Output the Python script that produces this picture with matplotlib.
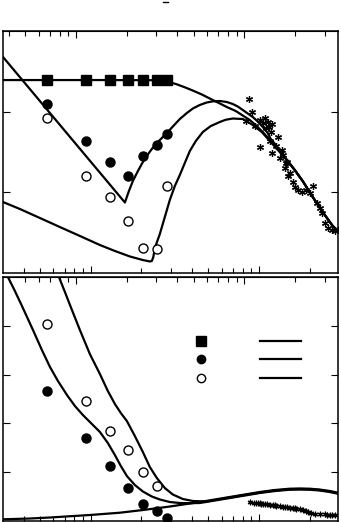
import matplotlib
matplotlib.use("Agg")
import matplotlib.pyplot as plt
from matplotlib.lines import Line2D
from matplotlib.legend_handler import HandlerTuple

# measured points (same x for all three sample types)
x_pts = [0.553, 0.938, 1.302, 1.671, 2.034, 2.464, 2.824]
sq_top = [2.388] * 7
fc_top = [2.091, 1.636, 1.380, 1.206, 1.454, 1.587, 1.723]
oc_top = [1.918, 1.206, 0.946, 0.648, 0.306, 0.301, 1.082]

# reference data (asterisks), upper panel
ast_x = [8.688, 9.050, 8.339, 9.430, 10.10, 10.52, 10.81, 11.26, 11.89, 11.42,
         10.96, 11.73, 12.91, 10.10, 11.89, 11.57, 13.64, 13.82, 14.60, 14.40,
         15.21, 15.84, 16.28, 16.96, 17.92, 18.92, 20.83, 19.98, 21.99, 23.54,
         24.53, 25.56, 26.99, 28.12, 29.30, 12.57, 13.27, 14.21, 14.80, 22.91]
ast_y = [2.157, 1.996, 1.884, 1.822, 1.897, 1.859, 1.921, 1.872, 1.847, 1.810,
         1.797, 1.748, 1.686, 1.562, 1.488, 1.636, 1.525, 1.463, 1.376, 1.364,
         1.240, 1.128, 1.066, 1.029, 1.004, 1.029, 1.078, 0.992, 0.868, 0.744,
         0.620, 0.558, 0.533, 0.521, 0.533, 1.574, 1.426, 1.302, 1.202, 0.806]

# model curves, upper panel
tail_x = [14.80, 16.28, 18.16, 20.83, 23.87, 27.36, 29.42]
tail_y = [1.388, 1.277, 1.140, 0.942, 0.756, 0.583, 0.521]

sq_cx = [0.302, 1.136, 2.407, 2.685, 2.953, 3.251, 3.625, 4.044, 4.574, 5.100,
         5.689, 6.434, 7.275, 8.006, 8.807, 9.691, 10.52, 11.57, 12.57, 13.64] + tail_x
sq_cy = [2.392, 2.392, 2.390, 2.380, 2.364, 2.339, 2.302, 2.262, 2.213, 2.163,
         2.114, 2.058, 2.008, 1.952, 1.897, 1.822, 1.748, 1.649, 1.562, 1.475] + tail_y

fc_cx = [0.302, 1.598, 1.688, 1.782, 1.909, 2.043, 2.218, 2.407, 2.612, 2.835,
         3.077, 3.386, 3.726, 4.044, 4.450, 4.896, 5.313, 5.848, 6.434, 6.982,
         7.476, 8.006, 8.570, 9.176, 9.824, 10.52, 11.26, 11.73, 12.57, 13.27] + tail_x
fc_cy = [2.678, 0.874, 1.016, 1.140, 1.264, 1.376, 1.488, 1.587, 1.661, 1.735,
         1.816, 1.909, 1.983, 2.039, 2.083, 2.114, 2.128, 2.132, 2.120, 2.095,
         2.064, 2.021, 1.977, 1.934, 1.878, 1.810, 1.735, 1.661, 1.587, 1.512] + tail_y

oc_cx = [0.302, 0.381, 0.500, 0.657, 0.864, 1.136, 1.394, 1.711, 2.043, 2.247,
         2.310, 2.357, 2.407, 2.576, 2.758, 2.953, 3.162, 3.386, 3.625, 3.881,
         4.213, 4.637, 5.170, 5.848, 6.347, 6.982, 8.006, 9.176, 10.38, 11.73,
         13.27] + tail_x
oc_cy = [0.880, 0.793, 0.682, 0.570, 0.459, 0.347, 0.273, 0.205, 0.161, 0.143,
         0.149, 0.198, 0.310, 0.483, 0.694, 0.905, 1.078, 1.215, 1.364, 1.512,
         1.636, 1.748, 1.822, 1.872, 1.900, 1.915, 1.909, 1.835, 1.748, 1.624,
         1.500] + tail_y

# lower panel
fc_bot = [2.664, 1.695, 1.133, 0.676, 0.342, 0.205, 0.055]
oc_bot = [4.037, 2.469, 1.844, 1.455, 1.010, 0.723]

ast2_x = [8.892, 9.302, 9.559, 9.83, 10.10, 10.33, 10.56, 10.83, 11.11, 11.57,
          12.06, 12.37, 12.69, 13.27, 13.88, 14.24, 14.60, 15.21, 15.84, 16.25,
          16.67, 17.43, 18.24, 18.92, 19.53, 20.46, 21.40, 22.91, 24.53, 25.4,
          26.27, 27.2, 28.12]
ast2_y = [0.383, 0.369, 0.363, 0.363, 0.363, 0.355, 0.348, 0.345, 0.342, 0.328,
          0.322, 0.318, 0.314, 0.303, 0.293, 0.288, 0.283, 0.273, 0.262, 0.257,
          0.252, 0.240, 0.225, 0.209, 0.191, 0.164, 0.137, 0.137, 0.143, 0.133,
          0.123, 0.125, 0.123]

band_x = [5.461, 6.703, 8.227, 10.10, 12.40, 15.21, 17.43, 19.98, 22.91, 26.27, 29.42]

fcb_cx = [0.323, 0.353, 0.389, 0.455, 0.514, 0.574, 0.640, 0.724, 0.807, 0.900,
          1.018, 1.136, 1.266, 1.394, 1.512, 1.642, 1.831, 2.043, 2.310, 2.576,
          2.953, 3.386, 3.881, 4.450] + band_x
fcb_cy = [5.0, 4.734, 4.426, 3.914, 3.504, 3.156, 2.869, 2.582, 2.357, 2.172,
          1.988, 1.824, 1.598, 1.352, 1.127, 0.922, 0.738, 0.605, 0.502, 0.441,
          0.389, 0.369, 0.365, 0.369,
          0.420, 0.471, 0.522, 0.574, 0.614, 0.641, 0.645, 0.641, 0.625, 0.594, 0.559]

ocb_cx = [0.649, 0.704, 0.775, 0.864, 0.990, 1.136, 1.266, 1.394, 1.512, 1.642,
          1.831, 2.043, 2.247, 2.473, 2.758, 3.077, 3.527, 4.044, 4.896] + band_x[1:]
ocb_cy = [5.0, 4.693, 4.324, 3.914, 3.422, 3.012, 2.664, 2.398, 2.213, 2.049,
          1.742, 1.414, 1.107, 0.881, 0.676, 0.543, 0.451, 0.410, 0.400,
          0.482, 0.533, 0.584, 0.625, 0.652, 0.656, 0.652, 0.635, 0.605, 0.570]

sqb_cx = [0.302, 0.436, 0.574, 0.990, 1.492, 2.043, 2.953, 4.450] + band_x
sqb_cy = [0.035, 0.051, 0.072, 0.123, 0.170, 0.225, 0.297, 0.389,
          0.441, 0.492, 0.543, 0.594, 0.635, 0.662, 0.666, 0.662, 0.645, 0.615, 0.580]

x_lim = (0.302, 29.42)
top_scale = 1.222

fig = plt.figure(figsize=(3.41, 5.22), dpi=100)
ax1 = fig.add_axes([0.0088, 0.477, 0.9824, 0.4636])
ax2 = fig.add_axes([0.0088, 0.0019, 0.9824, 0.4674])

lw = 1.6
ast_marker = (6, 2, 0)


def style(ax, ylim, yticks):
    ax.set_xscale('log')
    ax.set_xlim(*x_lim)
    ax.set_ylim(*ylim)
    ax.set_yticks(yticks)
    ax.tick_params(which='both', direction='in', top=False, bottom=True,
                   left=True, right=True, labelbottom=False, labelleft=False,
                   width=0.8)
    ax.tick_params(which='major', length=5)
    ax.tick_params(which='minor', length=3.5)
    for s in ax.spines.values():
        s.set_linewidth(1.1)
    sec = ax.secondary_xaxis('top', functions=(lambda v: v * top_scale,
                                               lambda v: v / top_scale))
    sec.tick_params(which='both', direction='in', labeltop=False, width=0.8)
    sec.tick_params(which='major', length=5)
    sec.tick_params(which='minor', length=3.5)


# upper panel
ax1.plot(sq_cx, sq_cy, color='black', lw=lw)
ax1.plot(fc_cx, fc_cy, color='black', lw=lw)
ax1.plot(oc_cx, oc_cy, color='black', lw=lw)
ax1.plot(x_pts, sq_top, 's', color='black', ms=7.5, ls='none')
ax1.plot(x_pts, fc_top, 'o', color='black', ms=6.5, ls='none')
ax1.plot(x_pts, oc_top, 'o', mfc='white', mec='black', mew=1, ms=6.5, ls='none')
ax1.plot(ast_x, ast_y, ls='none', marker=ast_marker, color='black', ms=5, mew=0.9)
style(ax1, (0, 3), [1, 2])

# lower panel
ax2.plot(sqb_cx, sqb_cy, color='black', lw=lw)
ax2.plot(fcb_cx, fcb_cy, color='black', lw=lw)
ax2.plot(ocb_cx, ocb_cy, color='black', lw=lw)
ax2.plot(x_pts, fc_bot, 'o', color='black', ms=6.5, ls='none')
ax2.plot(x_pts[:6], oc_bot, 'o', mfc='white', mec='black', mew=1, ms=6.5, ls='none')
ax2.plot(ast2_x, ast2_y, ls='none', marker=ast_marker, color='black', ms=4, mew=0.9)
style(ax2, (0, 5), [1, 2, 3, 4])

# legend without text: marker + line per row
mk_sq = Line2D([], [], marker='s', color='black', ls='none', ms=7)
mk_fc = Line2D([], [], marker='o', color='black', ls='none', ms=6)
mk_oc = Line2D([], [], marker='o', mfc='white', mec='black', mew=1, ls='none', ms=6)
ln = Line2D([], [], color='black', lw=lw)
ax2.legend([(mk_sq, ln), (mk_fc, ln), (mk_oc, ln)], ['', '', ''],
           handler_map={tuple: HandlerTuple(ndivide=2, pad=2.77)},
           handlelength=8.68, fontsize=10, labelspacing=0.3, frameon=False,
           loc='upper left', bbox_to_anchor=(0.529, 0.762),
           borderpad=0, borderaxespad=0, handletextpad=0)

# small mark at the top of the page
fig.add_artist(Line2D([0.477, 0.4936], [0.9967, 0.9967], color='black', lw=1))

fig.savefig('out.png', dpi=100)
